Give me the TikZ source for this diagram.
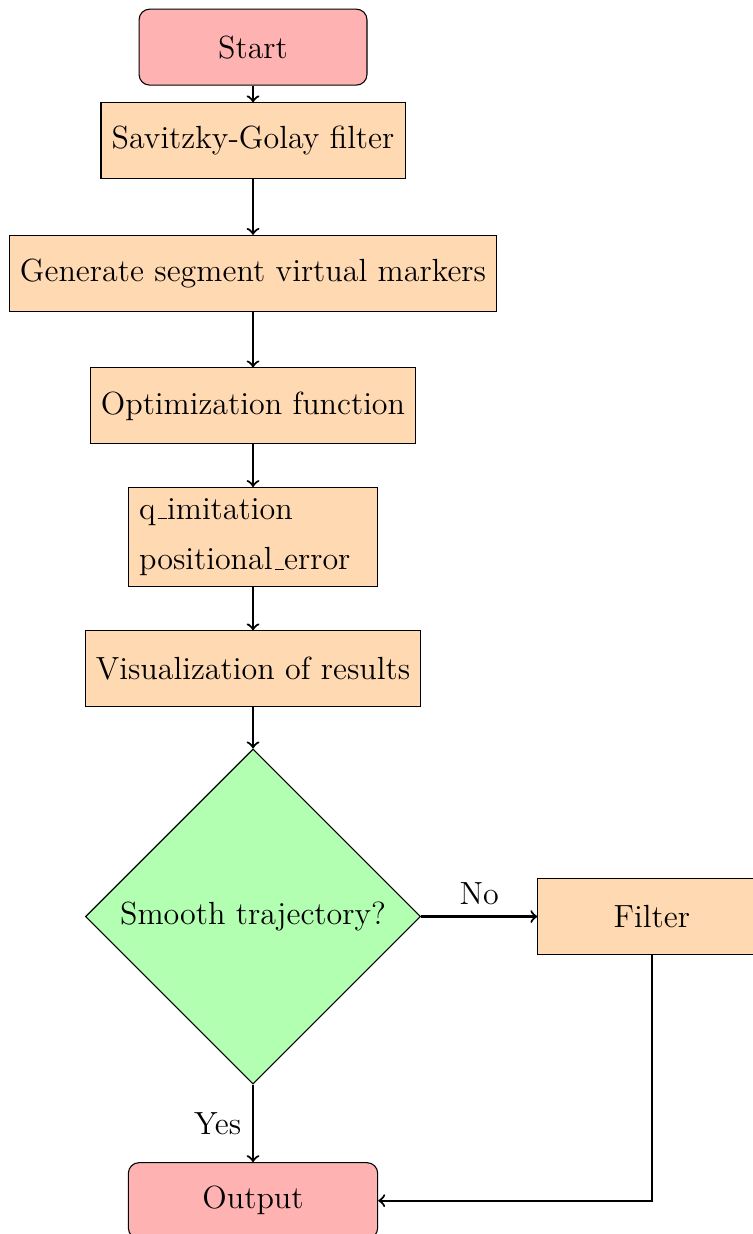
\documentclass[12pt,tikz,border=0pt]{standalone}
\usepackage{amsmath}
\usepackage{amssymb}
\usetikzlibrary{shapes.geometric,arrows,positioning}

\newcommand{\lowbar}{\leavevmode\kern.06em\vbox{\hrule width.3em}}

\tikzset{
  startstop/.style={rectangle, rounded corners, minimum width=3cm, minimum height=1cm, text centered, draw=black, fill=red!30},
  process/.style={rectangle, minimum width=3cm, minimum height=1cm, text centered, draw=black, fill=orange!30},
  decision/.style={diamond, minimum width=4.41cm, minimum height=4.41cm, inner sep=0pt, text centered, draw=black, fill=green!30},
  arrow/.style={thick,->}
}

\begin{document}
\begin{tikzpicture}
      \useasboundingbox (-3.33,0.62) rectangle (6.58,-15.62);
      \node (start) [startstop] at (0,0) {Start};
      \node (sav) [process, below=0.22cm of start] {Savitzky-Golay filter};
      \node (gen) [process, below=0.73cm of sav] {Generate segment virtual markers};
      \node (opt) [process, below=0.73cm of gen] {Optimization function};
      \node (res) [process, below=0.56cm of opt, text width=3cm, align=left] {q\lowbar imitation\\[4.4pt]positional\lowbar error};
      \node (vis) [process, below=0.57cm of res] {Visualization of results};
      \node (dec) [decision, below=0.54cm of vis] {Smooth trajectory?};
      \node (filt) [process, right=1.53cm of dec] {Filter};
      \node (out) [startstop, below=1.02cm of dec, text width=3cm, align=center] {Output};
      \draw [arrow] (start) -- (sav);
      \draw [arrow] (sav) -- (gen);
      \draw [arrow] (gen) -- (opt);
      \draw [arrow] (opt) -- (res);
      \draw [arrow] (res) -- (vis);
      \draw [arrow] (vis) -- (dec);
      \draw [arrow] (dec) -- node [above] {No} (filt);
      \draw [arrow] (dec) -- node [left] {Yes} (out);
      \draw [arrow] (filt) |- (out);
\end{tikzpicture}
\end{document}
